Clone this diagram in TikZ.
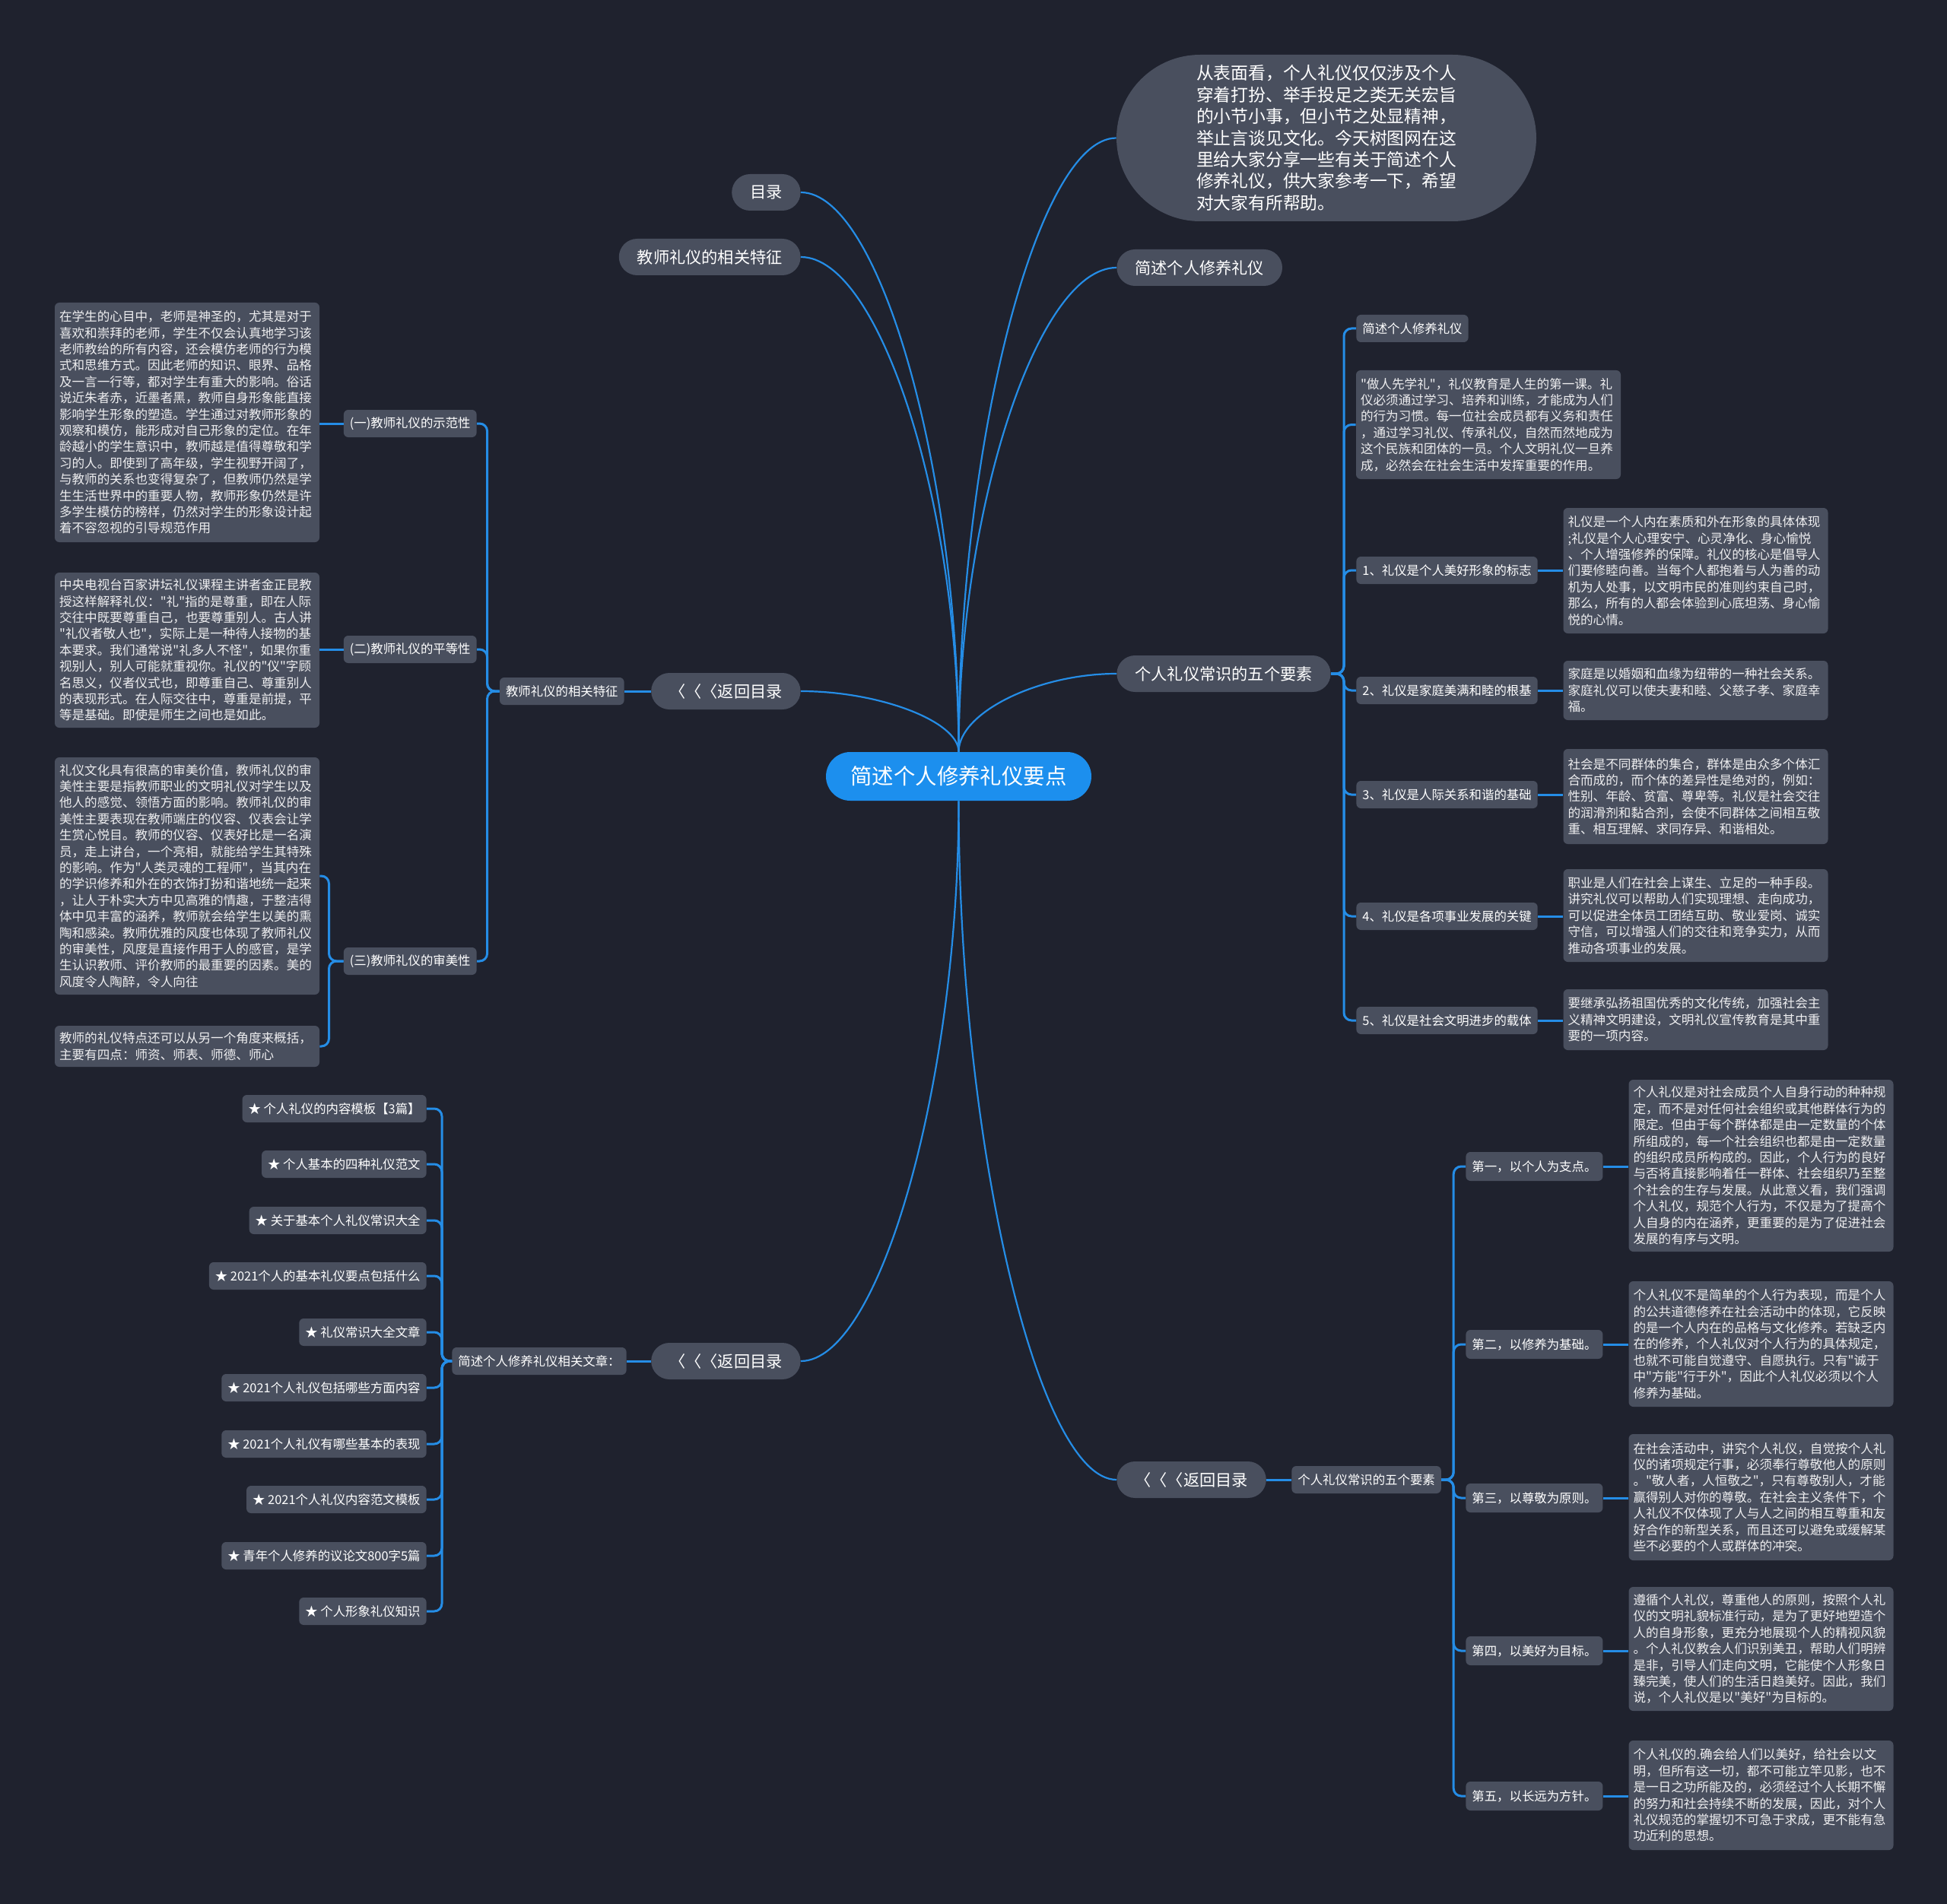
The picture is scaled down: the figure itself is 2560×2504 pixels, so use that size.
\documentclass[tikz,border=0pt]{standalone}
\usepackage{fontspec}
\setmainfont{Noto Sans CJK SC}[Ligatures=TeXOff]
\definecolor{bg}{RGB}{31,34,46}
\definecolor{nodefill}{RGB}{73,79,94}
\definecolor{linkblue}{RGB}{37,141,230}
\definecolor{centerblue}{RGB}{28,143,238}
\definecolor{leaftext}{RGB}{238,238,240}
\begin{document}
\begin{tikzpicture}[x=0.5pt,y=-0.5pt,
  centernode/.style={fill=centerblue, text=white, rounded corners=16pt, minimum width=174.5pt, minimum height=32pt, font=\fontsize{14.2}{16}\selectfont, inner sep=0pt},
  topnode/.style={fill=nodefill, rounded corners=12pt, text=white, font=\fontsize{10.6}{12}\selectfont, inner xsep=12pt, inner ysep=0pt, minimum height=24pt},
  bubble/.style={fill=nodefill, rounded corners=55pt, minimum width=276pt, minimum height=109.5pt, text=white, align=left, font=\fontsize{11.4}{14.2}\selectfont, inner sep=0pt},
  lab/.style={fill=nodefill, rounded corners=3pt, text=white, font=\fontsize{8.2}{10}\selectfont, inner xsep=4pt, inner ysep=0pt, minimum height=18pt},
  leaf/.style={fill=nodefill, rounded corners=3pt, text=leaftext, font=\fontsize{8.3}{10.7}\selectfont, align=left, text width=168pt, inner xsep=3pt, inner ysep=3pt},
  curvelink/.style={draw=linkblue, line width=1.1pt},
  link/.style={draw=linkblue, line width=1.5pt},
  elbow/.style={draw=linkblue, line width=1.5pt, rounded corners=5pt}
]
\fill[bg] (0,0) rectangle (2560,2504);
\useasboundingbox (0,0) rectangle (2560,2504);

% ---------- center ----------
\node[centernode] (c) at (1260.5,1021) {简述个人修养礼仪要点};

% ---------- top level ----------
\node[topnode, anchor=east] (mulu) at (1053,253) {目录};
\node[topnode, anchor=east] (tsA) at (1053,338) {教师礼仪的相关特征};
\node[topnode, anchor=east] (fhL1) at (1053,909) {〈〈〈返回目录};
\node[topnode, anchor=east] (fhL2) at (1053,1790) {〈〈〈返回目录};
\node[topnode, anchor=west] (jsA) at (1468,352) {简述个人修养礼仪};
\node[topnode, anchor=west] (wyA) at (1468,886) {个人礼仪常识的五个要素};
\node[topnode, anchor=west] (fhR) at (1468,1946) {〈〈〈返回目录};
\node[bubble] (bub) at (1744,181.5) {从表面看，个人礼仪仅仅涉及个人\\穿着打扮、举手投足之类无关宏旨\\的小节小事，但小节之处显精神，\\举止言谈见文化。今天树图网在这\\里给大家分享一些有关于简述个人\\修养礼仪，供大家参考一下，希望\\对大家有所帮助。};

\draw[curvelink] (c.north) .. controls (1260.5,621) and (1157,253) .. (mulu.east);
\draw[curvelink] (c.north) .. controls (1260.5,663.5) and (1157,338) .. (tsA.east);
\draw[curvelink] (c.north) .. controls (1260.5,949) and (1157,909) .. (fhL1.east);
\draw[curvelink] (c.north) .. controls (1260.5,585) and (1364,181.5) .. (bub.west);
\draw[curvelink] (c.north) .. controls (1260.5,670.5) and (1364,352) .. (jsA.west);
\draw[curvelink] (c.north) .. controls (1260.5,937.5) and (1364,886) .. (wyA.west);
\draw[curvelink] (c.south) .. controls (1260.5,1421.5) and (1157,1790) .. (fhL2.east);
\draw[curvelink] (c.south) .. controls (1260.5,1499.5) and (1364,1946) .. (fhR.west);

% ---------- left: teacher etiquette ----------
\node[lab, anchor=east] (tsB) at (821,909) {教师礼仪的相关特征};
\node[lab, anchor=east] (s1) at (627,557) {(一)教师礼仪的示范性};
\node[lab, anchor=east] (s2) at (627,854) {(二)教师礼仪的平等性};
\node[lab, anchor=east] (s3) at (627,1264) {(三)教师礼仪的审美性};

\node[leaf, minimum height=157.5pt] (T1) at (246,555.5) {在学生的心目中，老师是神圣的，尤其是对于\\喜欢和崇拜的老师，学生不仅会认真地学习该\\老师教给的所有内容，还会模仿老师的行为模\\式和思维方式。因此老师的知识、眼界、品格\\及一言一行等，都对学生有重大的影响。俗话\\说近朱者赤，近墨者黑，教师自身形象能直接\\影响学生形象的塑造。学生通过对教师形象的\\观察和模仿，能形成对自己形象的定位。在年\\龄越小的学生意识中，教师越是值得尊敬和学\\习的人。即使到了高年级，学生视野开阔了，\\与教师的关系也变得复杂了，但教师仍然是学\\生生活世界中的重要人物，教师形象仍然是许\\多学生模仿的榜样，仍然对学生的形象设计起\\着不容忽视的引导规范作用};
\node[leaf, minimum height=102pt] (T2) at (246,855) {中央电视台百家讲坛礼仪课程主讲者金正昆教\\授这样解释礼仪："礼"指的是尊重，即在人际\\交往中既要尊重自己，也要尊重别人。古人讲\\"礼仪者敬人也"，实际上是一种待人接物的基\\本要求。我们通常说"礼多人不怪"，如果你重\\视别人，别人可能就重视你。礼仪的"仪"字顾\\名思义，仪者仪式也，即尊重自己、尊重别人\\的表现形式。在人际交往中，尊重是前提，平\\等是基础。即使是师生之间也是如此。};
\node[leaf, minimum height=156pt] (T3) at (246,1152) {礼仪文化具有很高的审美价值，教师礼仪的审\\美性主要是指教师职业的文明礼仪对学生以及\\他人的感觉、领悟方面的影响。教师礼仪的审\\美性主要表现在教师端庄的仪容、仪表会让学\\生赏心悦目。教师的仪容、仪表好比是一名演\\员，走上讲台，一个亮相，就能给学生其特殊\\的影响。作为"人类灵魂的工程师"，当其内在\\的学识修养和外在的衣饰打扮和谐地统一起来\\，让人于朴实大方中见高雅的情趣，于整洁得\\体中见丰富的涵养，教师就会给学生以美的熏\\陶和感染。教师优雅的风度也体现了教师礼仪\\的审美性，风度是直接作用于人的感官，是学\\生认识教师、评价教师的最重要的因素。美的\\风度令人陶醉，令人向往};
\node[leaf, minimum height=27pt] (T4) at (246,1376) {教师的礼仪特点还可以从另一个角度来概括，\\主要有四点：师资、师表、师德、师心};

\draw[link] (fhL1.west) -- (tsB.east);
\foreach \s in {s1,s2,s3} \draw[elbow] (tsB.west) -- ++(-16,0) |- (\s.east);
\draw[link] (s1.west) -- (s1.west -| T1.east);
\draw[link] (s2.west) -- (s2.west -| T2.east);
\draw[elbow] (s3.west) -- ++(-19,0) |- (T3.east);
\draw[elbow] (s3.west) -- ++(-19,0) |- (T4.east);

% ---------- left: related articles ----------
\node[lab, anchor=east] (wzB) at (824,1790) {简述个人修养礼仪相关文章：};
\node[lab, anchor=east] (i1) at (561,1458) {★ 个人礼仪的内容模板【3篇】};
\node[lab, anchor=east] (i2) at (561,1531) {★ 个人基本的四种礼仪范文};
\node[lab, anchor=east] (i3) at (561,1605) {★ 关于基本个人礼仪常识大全};
\node[lab, anchor=east] (i4) at (561,1678) {★ 2021个人的基本礼仪要点包括什么};
\node[lab, anchor=east] (i5) at (561,1752) {★ 礼仪常识大全文章};
\node[lab, anchor=east] (i6) at (561,1825) {★ 2021个人礼仪包括哪些方面内容};
\node[lab, anchor=east] (i7) at (561,1899) {★ 2021个人礼仪有哪些基本的表现};
\node[lab, anchor=east] (i8) at (561,1972) {★ 2021个人礼仪内容范文模板};
\node[lab, anchor=east] (i9) at (561,2046) {★ 青年个人修养的议论文800字5篇};
\node[lab, anchor=east] (i10) at (561,2119) {★ 个人形象礼仪知识};
\draw[link] (fhL2.west) -- (wzB.east);
\foreach \i in {i1,i2,i3,i4,i5,i6,i7,i8,i9,i10} \draw[elbow] (wzB.west) -- ++(-13,0) |- (\i.east);

% ---------- right: five elements ----------
\node[lab, anchor=west] (r0) at (1783,432) {简述个人修养礼仪};
\node[leaf, minimum height=71.5pt] (P) at (1957,558.5) {"做人先学礼"，礼仪教育是人生的第一课。礼\\仪必须通过学习、培养和训练，才能成为人们\\的行为习惯。每一位社会成员都有义务和责任\\，通过学习礼仪、传承礼仪，自然而然地成为\\这个民族和团体的一员。个人文明礼仪一旦养\\成，必然会在社会生活中发挥重要的作用。};
\node[lab, anchor=west] (r1) at (1783,750) {1、礼仪是个人美好形象的标志};
\node[lab, anchor=west] (r2) at (1783,908) {2、礼仪是家庭美满和睦的根基};
\node[lab, anchor=west] (r3) at (1783,1045) {3、礼仪是人际关系和谐的基础};
\node[lab, anchor=west] (r4) at (1783,1205) {4、礼仪是各项事业发展的关键};
\node[lab, anchor=west] (r5) at (1783,1342) {5、礼仪是社会文明进步的载体};

\node[leaf, minimum height=82.5pt] (L1) at (2229.5,750.5) {礼仪是一个人内在素质和外在形象的具体体现\\;礼仪是个人心理安宁、心灵净化、身心愉悦\\、个人增强修养的保障。礼仪的核心是倡导人\\们要修睦向善。当每个人都抱着与人为善的动\\机为人处事，以文明市民的准则约束自己时，\\那么，所有的人都会体验到心底坦荡、身心愉\\悦的心情。};
\node[leaf, minimum height=39pt] (L2) at (2229.5,908) {家庭是以婚姻和血缘为纽带的一种社会关系。\\家庭礼仪可以使夫妻和睦、父慈子孝、家庭幸\\福。};
\node[leaf, minimum height=62.5pt] (L3) at (2229.5,1047.5) {社会是不同群体的集合，群体是由众多个体汇\\合而成的，而个体的差异性是绝对的，例如：\\性别、年龄、贫富、尊卑等。礼仪是社会交往\\的润滑剂和黏合剂，会使不同群体之间相互敬\\重、相互理解、求同存异、和谐相处。};
\node[leaf, minimum height=61pt] (L4) at (2229.5,1204) {职业是人们在社会上谋生、立足的一种手段。\\讲究礼仪可以帮助人们实现理想、走向成功，\\可以促进全体员工团结互助、敬业爱岗、诚实\\守信，可以增强人们的交往和竞争实力，从而\\推动各项事业的发展。};
\node[leaf, minimum height=40pt] (L5) at (2229.5,1341) {要继承弘扬祖国优秀的文化传统，加强社会主\\义精神文明建设，文明礼仪宣传教育是其中重\\要的一项内容。};

\foreach \r in {r0,P,r1,r2,r3,r4,r5} \draw[elbow] (wyA.east) -- ++(17,0) |- (\r.west);
\draw[link] (r1.east) -- (r1.east -| L1.west);
\draw[link] (r2.east) -- (r2.east -| L2.west);
\draw[link] (r3.east) -- (r3.east -| L3.west);
\draw[link] (r4.east) -- (r4.east -| L4.west);
\draw[link] (r5.east) -- (r5.east -| L5.west);

% ---------- right lower: principles ----------
\node[lab, anchor=west] (wyB) at (1698,1946) {个人礼仪常识的五个要素};
\node[lab, anchor=west, minimum height=19pt] (d1) at (1927,1534) {第一，以个人为支点。};
\node[lab, anchor=west, minimum height=19pt] (d2) at (1927,1768) {第二，以修养为基础。};
\node[lab, anchor=west, minimum height=19pt] (d3) at (1927,1970) {第三，以尊敬为原则。};
\node[lab, anchor=west, minimum height=19pt] (d4) at (1927,2171) {第四，以美好为目标。};
\node[lab, anchor=west, minimum height=19pt] (d5) at (1927,2362) {第五，以长远为方针。};

\node[leaf, minimum height=113pt] (M1) at (2315.5,1533) {个人礼仪是对社会成员个人自身行动的种种规\\定，而不是对任何社会组织或其他群体行为的\\限定。但由于每个群体都是由一定数量的个体\\所组成的，每一个社会组织也都是由一定数量\\的组织成员所构成的。因此，个人行为的良好\\与否将直接影响着任一群体、社会组织乃至整\\个社会的生存与发展。从此意义看，我们强调\\个人礼仪，规范个人行为，不仅是为了提高个\\人自身的内在涵养，更重要的是为了促进社会\\发展的有序与文明。};
\node[leaf, minimum height=82.5pt] (M2) at (2315.5,1767.5) {个人礼仪不是简单的个人行为表现，而是个人\\的公共道德修养在社会活动中的体现，它反映\\的是一个人内在的品格与文化修养。若缺乏内\\在的修养，个人礼仪对个人行为的具体规定，\\也就不可能自觉遵守、自愿执行。只有"诚于\\中"方能"行于外"，因此个人礼仪必须以个人\\修养为基础。};
\node[leaf, minimum height=83pt] (M3) at (2315.5,1969) {在社会活动中，讲究个人礼仪，自觉按个人礼\\仪的诸项规定行事，必须奉行尊敬他人的原则\\。"敬人者，人恒敬之"，只有尊敬别人，才能\\赢得别人对你的尊敬。在社会主义条件下，个\\人礼仪不仅体现了人与人之间的相互尊重和友\\好合作的新型关系，而且还可以避免或缓解某\\些不必要的个人或群体的冲突。};
\node[leaf, minimum height=81.5pt] (M4) at (2315.5,2168.5) {遵循个人礼仪，尊重他人的原则，按照个人礼\\仪的文明礼貌标准行动，是为了更好地塑造个\\人的自身形象，更充分地展现个人的精视风貌\\。个人礼仪教会人们识别美丑，帮助人们明辨\\是非，引导人们走向文明，它能使个人形象日\\臻完美，使人们的生活日趋美好。因此，我们\\说，个人礼仪是以"美好"为目标的。};
\node[leaf, minimum height=72pt] (M5) at (2315.5,2361) {个人礼仪的.确会给人们以美好，给社会以文\\明，但所有这一切，都不可能立竿见影，也不\\是一日之功所能及的，必须经过个人长期不懈\\的努力和社会持续不断的发展，因此，对个人\\礼仪规范的掌握切不可急于求成，更不能有急\\功近利的思想。};

\draw[link] (fhR.east) -- (wyB.west);
\foreach \d in {d1,d2,d3,d4,d5} \draw[elbow] (wyB.east) -- ++(16,0) |- (\d.west);
\draw[link] (d1.east) -- (d1.east -| M1.west);
\draw[link] (d2.east) -- (d2.east -| M2.west);
\draw[link] (d3.east) -- (d3.east -| M3.west);
\draw[link] (d4.east) -- (d4.east -| M4.west);
\draw[link] (d5.east) -- (d5.east -| M5.west);
\end{tikzpicture}
\end{document}
